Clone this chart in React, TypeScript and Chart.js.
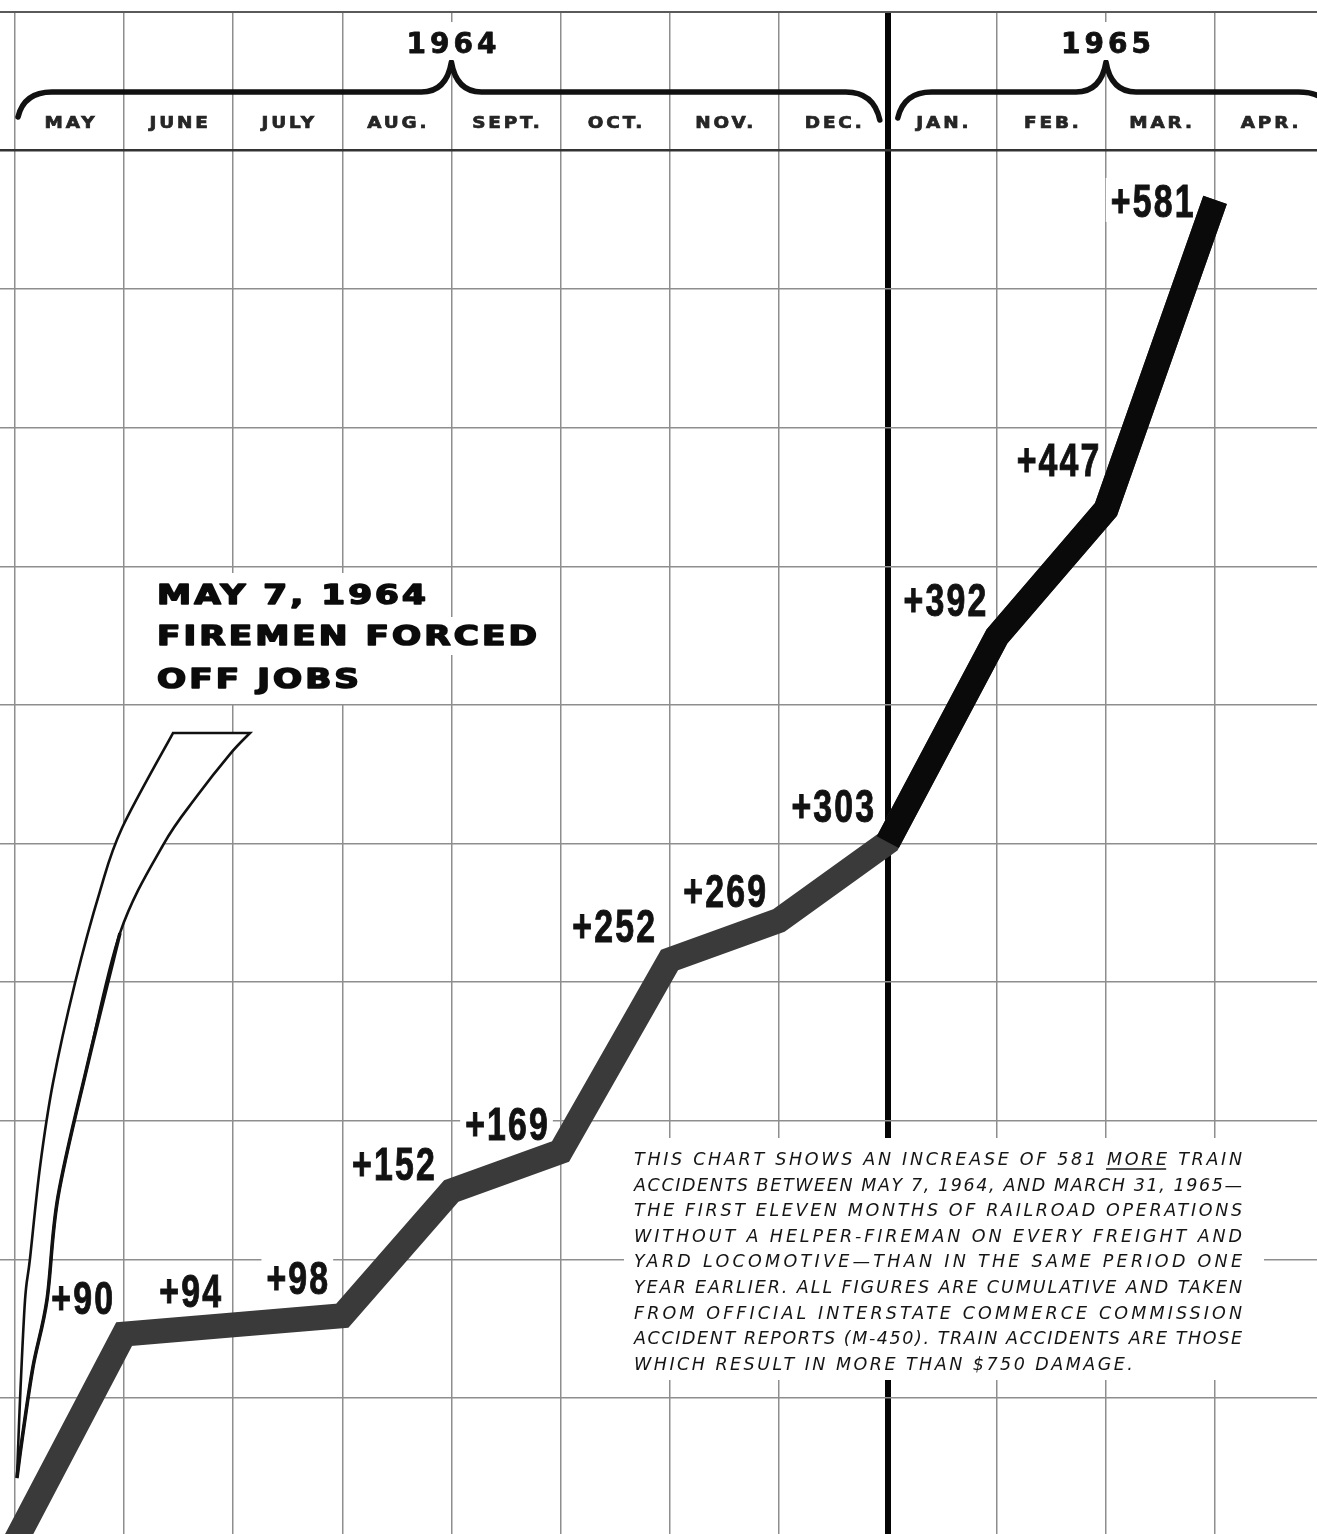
import React, { useEffect, useRef } from "react";
import { Chart, registerables } from "chart.js";

Chart.register(...registerables);

// ---------- data ----------
const monthLabels = ["MAY", "JUNE", "JULY", "AUG.", "SEPT.", "OCT.", "NOV.", "DEC.", "JAN.", "FEB.", "MAR.", "APR."];
const yearLabels = ["1964", "1965"];
const yearStartMonth = [0, 8];
const yearEndMonth = [8, 12];
const yearPeakMonth = [4, 10];
// x = month index at end of each month (0 = start of May 1964)
const pointMonths = [0, 1, 2, 3, 4, 5, 6, 7, 8, 9, 10, 11];
const cumulativeIncrease = [0, 90, 94, 98, 152, 169, 252, 269, 303, 392, 447, 581];
const blackFromIndex = 8; // from +303 (end of Dec.) the line is printed black
const gridMonths = [0, 1, 2, 3, 4, 5, 6, 7, 8, 9, 10, 11];
const gridValues = [62.34, 122.34, 182.34, 242.34, 302.34, 362.34, 422.34, 482.34, 542.34, 602.34, 662.34];
const headlineLines = ["MAY 7, 1964", "FIREMEN FORCED", "OFF JOBS"];
const noteLines = [
  "THIS CHART SHOWS AN INCREASE OF 581 MORE TRAIN",
  "ACCIDENTS BETWEEN MAY 7, 1964, AND MARCH 31, 1965\u2014",
  "THE FIRST ELEVEN MONTHS OF RAILROAD OPERATIONS",
  "WITHOUT A HELPER-FIREMAN ON EVERY FREIGHT AND",
  "YARD LOCOMOTIVE\u2014THAN IN THE SAME PERIOD ONE",
  "YEAR EARLIER. ALL FIGURES ARE CUMULATIVE AND TAKEN",
  "FROM OFFICIAL INTERSTATE COMMERCE COMMISSION",
  "ACCIDENT REPORTS (M-450). TRAIN ACCIDENTS ARE THOSE",
  "WHICH RESULT IN MORE THAN $750 DAMAGE.",
];
// callout arrow outline in (month, value) coordinates
const arrowOuter = [
  [1.448, 350.2], [0.981, 309.1], [0.779, 281.8], [0.55, 242.0], [0.348, 198.7],
  [0.229, 162.3], [0.137, 122.5], [0.092, 104.8], [0.046, 61.5], [0.018, 27.7],
];
const arrowInner = [
  [2.154, 350.2], [1.971, 341.1], [1.668, 322.9], [1.357, 301.7], [0.962, 263.6],
  [0.66, 205.6], [0.394, 149.4], [0.293, 104.8], [0.165, 75.8], [0.064, 44.2], [0.018, 27.7],
];

// label placement nudges (pixels, relative to each point) – styling only
const labelNudge = [
  [0, 0], [-42, -37], [-43, -35], [-45, -39], [-58, -28], [-54, -29],
  [-56, -35], [-54, -31], [-55, -37], [-52, -37], [-48, -50], [-63, 0],
];

const GRAY_LINE = "#3a3a3a";
const BLACK_LINE = "#0a0a0a";

function catmull(ctx: CanvasRenderingContext2D, pts: number[][], start: boolean) {
  if (start) ctx.moveTo(pts[0][0], pts[0][1]);
  else ctx.lineTo(pts[0][0], pts[0][1]);
  for (let i = 0; i < pts.length - 1; i++) {
    const p0 = pts[i - 1] || pts[i];
    const p1 = pts[i];
    const p2 = pts[i + 1];
    const p3 = pts[i + 2] || p2;
    const c1x = p1[0] + (p2[0] - p0[0]) / 6;
    const c1y = p1[1] + (p2[1] - p0[1]) / 6;
    const c2x = p2[0] - (p3[0] - p1[0]) / 6;
    const c2y = p2[1] - (p3[1] - p1[1]) / 6;
    ctx.bezierCurveTo(c1x, c1y, c2x, c2y, p2[0], p2[1]);
  }
}

const decorPlugin = {
  id: "decor",
  beforeDraw(chart: any) {
    const ctx = chart.ctx as CanvasRenderingContext2D;
    ctx.save();
    ctx.fillStyle = "#ffffff";
    ctx.fillRect(0, 0, chart.width, chart.height);
    ctx.restore();
  },
  beforeDatasetsDraw(chart: any) {
    const ctx = chart.ctx as CanvasRenderingContext2D;
    const xs = chart.scales.x;
    const ys = chart.scales.y;
    const X = (m: number) => xs.getPixelForValue(m);
    const Y = (v: number) => ys.getPixelForValue(v);
    const anyCtx = ctx as any;

    // ---------- header: years + brackets ----------
    ctx.save();
    ctx.strokeStyle = "#111";
    ctx.lineWidth = 5.5;
    ctx.lineCap = "round";
    ctx.lineJoin = "round";
    const yLine = 92;
    for (let i = 0; i < yearLabels.length; i++) {
      const xl = X(yearStartMonth[i]) + (i === 0 ? 3 : 10);
      const xr = X(yearEndMonth[i]) - (i === 0 ? 8 : -8);
      const xp = X(yearPeakMonth[i]);
      const yEndL = i === 0 ? 117 : 118;
      const yEndR = i === 0 ? 120 : 112;
      ctx.beginPath();
      ctx.moveTo(xl, yEndL);
      ctx.quadraticCurveTo(xl + 6, yLine, xl + 34, yLine);
      ctx.lineTo(xp - 30, yLine);
      ctx.quadraticCurveTo(xp - 5, yLine, xp, 62);
      ctx.quadraticCurveTo(xp + 5, yLine, xp + 30, yLine);
      ctx.lineTo(xr - 34, yLine);
      ctx.quadraticCurveTo(xr - 6, yLine, xr, yEndR);
      ctx.stroke();

      // year text
      ctx.font = "bold 28px 'DejaVu Sans', sans-serif";
      anyCtx.letterSpacing = "4px";
      const tw = ctx.measureText(yearLabels[i]).width - 4;
      ctx.fillStyle = "#fff";
      ctx.fillRect(xp - tw / 2 - 8, 22, tw + 16, 38);
      ctx.fillStyle = "#111";
      ctx.strokeStyle = "#111";
      ctx.lineWidth = 0.8;
      ctx.textAlign = "left";
      ctx.textBaseline = "alphabetic";
      ctx.fillText(yearLabels[i], xp - tw / 2, 53);
      ctx.strokeText(yearLabels[i], xp - tw / 2, 53);
      anyCtx.letterSpacing = "0px";
      ctx.strokeStyle = "#111";
      ctx.lineWidth = 5.5;
    }
    ctx.restore();

    // month labels
    ctx.save();
    ctx.font = "bold 16px 'DejaVu Sans', sans-serif";
    anyCtx.letterSpacing = "2.5px";
    ctx.fillStyle = "#262626";
    ctx.strokeStyle = "#262626";
    ctx.lineWidth = 0.7;
    ctx.textBaseline = "alphabetic";
    ctx.textAlign = "left";
    for (let i = 0; i < monthLabels.length; i++) {
      const cx = X(i + 0.5);
      const w = (ctx.measureText(monthLabels[i]).width - 2.5) * 1.15;
      ctx.save();
      ctx.translate(cx - w / 2, 128);
      ctx.scale(1.15, 1);
      ctx.fillText(monthLabels[i], 0, 0);
      ctx.strokeText(monthLabels[i], 0, 0);
      ctx.restore();
    }
    anyCtx.letterSpacing = "0px";
    ctx.restore();

    // ---------- value labels ----------
    ctx.save();
    const sx = 0.72;
    ctx.font = "bold 47px 'Liberation Sans', Arial, sans-serif";
    ctx.textAlign = "left";
    ctx.textBaseline = "alphabetic";
    for (let i = 1; i < cumulativeIncrease.length; i++) {
      const txt = "+" + cumulativeIncrease[i];
      const px = X(pointMonths[i]) + labelNudge[i][0];
      const py = Y(cumulativeIncrease[i]) + labelNudge[i][1];
      anyCtx.letterSpacing = "3px";
      const w = (ctx.measureText(txt).width - 3) * sx;
      ctx.fillStyle = "#fff";
      ctx.fillRect(px - w / 2 - 5, py - 22, w + 10, 44);
      ctx.save();
      ctx.translate(px - w / 2, py + 17);
      ctx.scale(sx, 1);
      ctx.fillStyle = "#121212";
      ctx.strokeStyle = "#121212";
      ctx.lineWidth = 1;
      ctx.fillText(txt, 0, 0);
      ctx.strokeText(txt, 0, 0);
      ctx.restore();
      anyCtx.letterSpacing = "0px";
    }
    ctx.restore();

    // ---------- callout arrow ----------
    ctx.save();
    const outer = arrowOuter.map((p) => [X(p[0]), Y(p[1])]);
    const inner = arrowInner.map((p) => [X(p[0]), Y(p[1])]).reverse();
    ctx.beginPath();
    catmull(ctx, outer, true);
    catmull(ctx, inner, false);
    ctx.closePath();
    ctx.fillStyle = "#fff";
    ctx.fill();
    ctx.strokeStyle = "#111";
    ctx.lineWidth = 2.6;
    ctx.lineJoin = "miter";
    ctx.stroke();
    // heavier inner edge in lower half
    ctx.beginPath();
    catmull(ctx, arrowInner.slice(4).map((p) => [X(p[0]), Y(p[1])]), true);
    ctx.lineWidth = 3.6;
    ctx.stroke();
    ctx.restore();

    // ---------- headline ----------
    ctx.save();
    ctx.fillStyle = "#fff";
    ctx.fillRect(X(1) + 1.5, 573, X(4) - X(1) - 4, 131);
    ctx.font = "bold 27px 'DejaVu Sans', sans-serif";
    anyCtx.letterSpacing = "2.4px";
    const hx = 157;
    const hBase = [604, 645, 688];
    const hs = 1.27;
    for (let i = 0; i < headlineLines.length; i++) {
      const w = (ctx.measureText(headlineLines[i]).width - 2.4) * hs;
      ctx.fillStyle = "#fff";
      ctx.fillRect(hx - 6, hBase[i] - 28, w + 14, 38);
      ctx.save();
      ctx.translate(hx, hBase[i]);
      ctx.scale(hs, 1);
      ctx.fillStyle = "#0b0b0b";
      ctx.strokeStyle = "#0b0b0b";
      ctx.lineWidth = 1.6;
      ctx.lineJoin = "round";
      ctx.textAlign = "left";
      ctx.fillText(headlineLines[i], 0, 0);
      ctx.strokeText(headlineLines[i], 0, 0);
      ctx.restore();
    }
    anyCtx.letterSpacing = "0px";
    ctx.restore();

    // ---------- note block ----------
    ctx.save();
    ctx.fillStyle = "#fff";
    ctx.fillRect(624, 1138, 640, 242);
    ctx.font = "italic 17.5px 'DejaVu Sans', sans-serif";
    ctx.fillStyle = "#151515";
    ctx.textAlign = "left";
    ctx.textBaseline = "alphabetic";
    const nx = 634;
    const W = 608;
    const firstBase = 1165;
    const lh = 25.6;
    let sum = 0;
    const spacings: number[] = [];
    for (let i = 0; i < noteLines.length; i++) {
      anyCtx.letterSpacing = "0px";
      const w0 = ctx.measureText(noteLines[i]).width;
      const ls = (W - w0) / (noteLines[i].length - 1);
      spacings.push(ls);
      if (i < noteLines.length - 1) sum += ls;
    }
    const avg = sum / (noteLines.length - 1);
    for (let i = 0; i < noteLines.length; i++) {
      const ls = i === noteLines.length - 1 ? avg : spacings[i];
      anyCtx.letterSpacing = ls + "px";
      const y = firstBase + i * lh;
      ctx.fillText(noteLines[i], nx, y);
      if (i === 0) {
        const pre = "THIS CHART SHOWS AN INCREASE OF 581 ";
        const off = ctx.measureText(pre).width;
        const wm = ctx.measureText("MORE").width - ls;
        ctx.strokeStyle = "#151515";
        ctx.lineWidth = 1.5;
        ctx.beginPath();
        ctx.moveTo(nx + off - 1, y + 4);
        ctx.lineTo(nx + off + wm - 1, y + 4);
        ctx.stroke();
      }
    }
    anyCtx.letterSpacing = "0px";
    ctx.restore();
  },
};

export default function App() {
  const ref = useRef<HTMLCanvasElement>(null);

  useEffect(() => {
    document.body.style.margin = "0";
    const canvas = ref.current;
    if (!canvas) return;
    const allPoints = pointMonths.map((m, i) => ({ x: m, y: cumulativeIncrease[i] }));
    const blackPoints = allPoints.slice(blackFromIndex);

    const chart = new Chart(canvas, {
      type: "line",
      data: {
        datasets: [
          {
            data: allPoints,
            borderColor: GRAY_LINE,
            borderWidth: 25,
            pointRadius: 0,
            tension: 0,
            borderJoinStyle: "miter",
            borderCapStyle: "butt",
            fill: false,
            order: 2,
          },
          {
            data: blackPoints,
            borderColor: BLACK_LINE,
            borderWidth: 25,
            pointRadius: 0,
            tension: 0,
            borderJoinStyle: "miter",
            borderCapStyle: "butt",
            fill: false,
            order: 1,
          },
        ],
      },
      options: {
        responsive: false,
        animation: false,
        devicePixelRatio: 1,
        layout: { padding: { top: 12, left: 0, right: 0, bottom: 0 } },
        plugins: {
          legend: { display: false },
          tooltip: { enabled: false },
          title: { display: false },
        },
        events: [],
        scales: {
          x: {
            type: "linear",
            min: -0.1375,
            max: 11.934,
            afterBuildTicks: (s: any) => {
              s.ticks = gridMonths.map((v) => ({ value: v }));
            },
            ticks: { display: false },
            border: { display: false },
            grid: {
              drawTicks: false,
              color: (c: any) => (c.tick && c.tick.value === 8 ? "#050505" : "#8e8e8e"),
              lineWidth: (c: any) => (c.tick && c.tick.value === 8 ? 6 : 1.5),
            },
          },
          y: {
            type: "linear",
            min: 3.46,
            max: 662.34,
            afterBuildTicks: (s: any) => {
              s.ticks = gridValues.map((v) => ({ value: v }));
            },
            ticks: { display: false },
            border: { display: false },
            grid: {
              drawTicks: false,
              color: (c: any) => {
                const v = c.tick ? c.tick.value : 0;
                if (Math.abs(v - 602.34) < 0.01) return "#333333";
                if (Math.abs(v - 662.34) < 0.01) return "#5a5a5a";
                return "#8e8e8e";
              },
              lineWidth: (c: any) => {
                const v = c.tick ? c.tick.value : 0;
                if (Math.abs(v - 602.34) < 0.01) return 2.5;
                if (Math.abs(v - 662.34) < 0.01) return 2;
                return 1.5;
              },
            },
          },
        },
      } as any,
      plugins: [decorPlugin],
    });
    return () => chart.destroy();
  }, []);

  return (
    <div style={{ width: 1317, height: 1534, background: "#fff" }}>
      <canvas ref={ref} width={1317} height={1534} style={{ display: "block" }} />
    </div>
  );
}
